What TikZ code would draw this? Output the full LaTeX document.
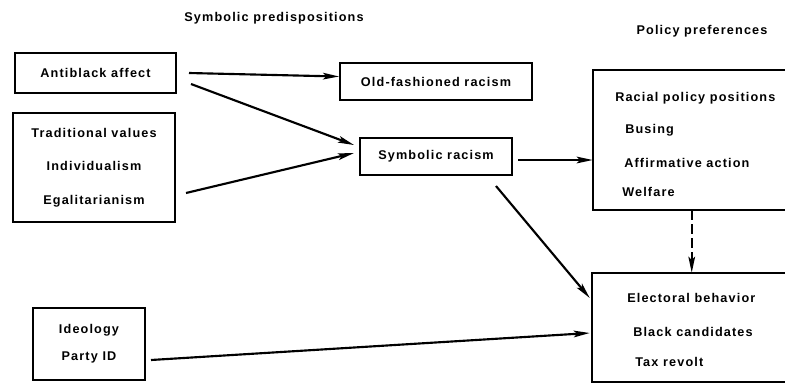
\documentclass[tikz,border=0pt]{standalone}
\usepackage{fontspec}
\setmainfont{Liberation Sans}
\newfontfamily\lblfont[LetterSpace=9]{Liberation Sans}
\usetikzlibrary{arrows.meta}
\begin{document}
\begin{tikzpicture}[x=0.75pt,y=-0.75pt,
  txt/.style={inner sep=0pt, font=\lblfont\bfseries\fontsize{9.5pt}{11pt}\selectfont},
  box/.style={draw, line width=1.5pt, inner sep=0pt, align=center},
  openbox/.style={inner sep=0pt},
  arr/.style={line width=1.6pt, -{Stealth[length=12pt,width=5pt,inset=2.5pt]}},
  dasharr/.style={line width=1.6pt, dash pattern=on 7pt off 3.5pt, -{Stealth[length=12pt,width=5pt,inset=2.5pt]}}
]
\useasboundingbox (0,0) rectangle (785,387);

% headings
\node[txt] (h1) at (274,18) {Symbolic predispositions};
\node[txt] (h2) at (702,31) {Policy preferences};

% left boxes
\node[box, txt, minimum width=120.75pt, minimum height=30pt] (ab) at (95.5,73) {Antiblack affect};
\node[box, txt, minimum width=121.5pt, minimum height=81.75pt,
      font=\lblfont\bfseries\fontsize{9.5pt}{25pt}\selectfont] (tv) at (94,167.5)
      {Traditional values\\Individualism\\Egalitarianism};
\node[box, txt, minimum width=84pt, minimum height=54pt,
      font=\lblfont\bfseries\fontsize{9.5pt}{20pt}\selectfont] (id) at (89,344)
      {Ideology\\Party ID};

% middle boxes
\node[box, txt, minimum width=144pt, minimum height=27.75pt] (ofr) at (436,81.5) {Old-fashioned racism};
\node[box, txt, minimum width=114pt, minimum height=27.75pt] (sr) at (436,156.5) {Symbolic racism};

% right boxes (cut by the right edge)
\node[openbox, minimum width=144pt, minimum height=105pt] (rp) at (689,140) {};
\draw[line width=1.5pt] (rp.north east) -- (rp.north west) -- (rp.south west) -- (rp.south east);
\node[txt, anchor=west] (rp1) at (615,98) {Racial policy positions};
\node[txt, anchor=west] (rp2) at (625,130) {Busing};
\node[txt, anchor=west] (rp3) at (624,163) {Affirmative action};
\node[txt, anchor=west] (rp4) at (622,192) {Welfare};

\node[openbox, minimum width=144.75pt, minimum height=81.75pt] (el) at (688.5,327.5) {};
\draw[line width=1.5pt] (el.north east) -- (el.north west) -- (el.south west) -- (el.south east);
\node[txt, anchor=west] (el1) at (627,298) {Electoral behavior};
\node[txt, anchor=west] (el2) at (633,332) {Black candidates};
\node[txt, anchor=west] (el3) at (635,362) {Tax revolt};

% connectors
\draw[arr] ([shift={(12,0)}]ab.east) -- ([shift={(0,-5)}]ofr.west);
\draw[arr] ([shift={(14,11)}]ab.east) -- ([shift={(-5,-11.5)}]sr.west);
\draw[arr] ([shift={(10,25.5)}]tv.east) -- ([shift={(-5,-3.5)}]sr.west);
\coordinate (s1) at ([shift={(5,3.5)}]sr.east);
\draw[arr] (s1) -- (s1 -| rp.west);
\draw[arr] ([shift={(-17,10)}]sr.south east) -- ([shift={(-2,-29.5)}]el.west);
\draw[arr] ([shift={(5,16)}]id.east) -- ([shift={(-2,5.5)}]el.west);
\coordinate (d1) at ([shift={(99,0)}]rp.south west);
\draw[dasharr] (d1) -- (d1 |- el.north);
\end{tikzpicture}
\end{document}
